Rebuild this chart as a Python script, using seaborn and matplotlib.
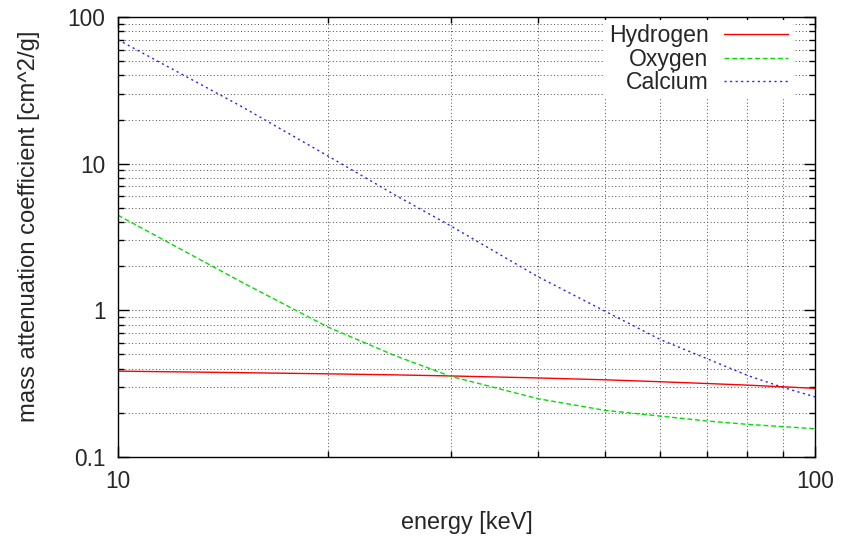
import matplotlib
matplotlib.use("Agg")
import matplotlib.pyplot as plt
import seaborn as sns
import pandas as pd
from matplotlib.ticker import FixedLocator, NullFormatter, LogLocator

# Data
energy = [10, 15, 20, 25, 30, 40, 50, 60, 70, 80, 90, 100]
hydrogen = [0.385, 0.376, 0.369, 0.363, 0.357, 0.346, 0.336, 0.326, 0.317, 0.309, 0.301, 0.294]
oxygen = [4.45, 1.57, 0.77, 0.49, 0.355, 0.25, 0.208, 0.19, 0.176, 0.167, 0.161, 0.156]
calcium = [70.0, 24.7, 11.3, 6.1, 3.77, 1.70, 0.985, 0.632, 0.468, 0.36, 0.298, 0.257]

series_names = ["Hydrogen", "Oxygen", "Calcium"]
x_ticks = [10, 100]
x_tick_labels = ["10", "100"]
y_ticks = [0.1, 1, 10, 100]
y_tick_labels = ["0.1", "1", "10", "100"]

sns.set_style("ticks")
plt.rcParams["font.family"] = ["Liberation Sans", "DejaVu Sans"]
FS_TICK = 16.3
FS_LAB = 16.9
FS_LEG = 16.6

fig = plt.figure(figsize=(8.43, 5.36), dpi=100)
ax = fig.add_axes([118 / 843, 1 - 457 / 536, (815 - 118) / 843, (457 - 17) / 536])

styles = {
    "Hydrogen": dict(color="#ff0000", linestyle="-"),
    "Oxygen": dict(color="#00e000", linestyle=(0, (3.5, 2))),
    "Calcium": dict(color="#2020ff", linestyle=(0, (1.5, 2.5))),
}
values = {"Hydrogen": hydrogen, "Oxygen": oxygen, "Calcium": calcium}

for name in series_names:
    df = pd.DataFrame({"energy": energy, "mu": values[name]})
    sns.lineplot(data=df, x="energy", y="mu", ax=ax, label=name,
                 linewidth=1.0, estimator=None, sort=False, **styles[name])

ax.set_xscale("log")
ax.set_yscale("log")
ax.set_xlim(10, 100)
ax.set_ylim(0.1, 100)

ax.xaxis.set_major_locator(FixedLocator(x_ticks))
ax.set_xticklabels(x_tick_labels)
ax.xaxis.set_minor_locator(LogLocator(base=10, subs=range(2, 10)))
ax.xaxis.set_minor_formatter(NullFormatter())
ax.yaxis.set_major_locator(FixedLocator(y_ticks))
ax.set_yticklabels(y_tick_labels)
ax.yaxis.set_minor_locator(LogLocator(base=10, subs=range(2, 10)))
ax.yaxis.set_minor_formatter(NullFormatter())

ax.tick_params(which="both", direction="in", top=True, right=True, color="black")
ax.tick_params(which="major", length=8, width=1, labelsize=FS_TICK, pad=9)
ax.tick_params(which="minor", length=4, width=1)

ax.grid(True, which="both", color="0.3", linewidth=0.7, linestyle=(0, (1, 2.5)))
ax.set_axisbelow(True)
for s in ax.spines.values():
    s.set_color("black")
    s.set_linewidth(1.0)

ax.set_xlabel("energy [keV]", fontsize=FS_LAB)
ax.set_ylabel("mass attenuation coefficient [cm^2/g]", fontsize=FS_LAB + 0.3)
ax.xaxis.set_label_coords(0.5, -0.122)
ax.yaxis.set_label_coords(-0.112, 0.524)

leg = ax.legend(loc="upper right", bbox_to_anchor=(0.968, 0.994), markerfirst=False,
                fontsize=FS_LEG, frameon=True, fancybox=False, framealpha=1.0,
                edgecolor="white", facecolor="white", handlelength=2.8,
                handletextpad=0.65, labelspacing=0.02, borderpad=0.2, borderaxespad=0)
leg.get_frame().set_linewidth(0)
for t in leg.get_texts():
    t.set_ha("right")

fig.savefig("out.png", dpi=100, facecolor="white")
